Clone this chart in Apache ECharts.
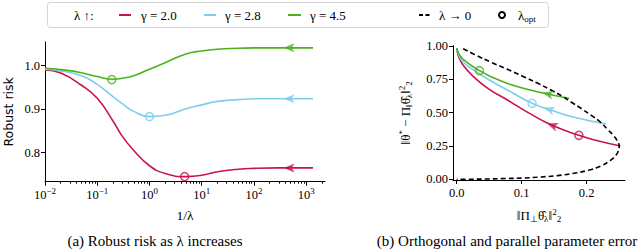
<!DOCTYPE html>
<html><head><meta charset="utf-8">
<script src="https://cdn.jsdelivr.net/npm/echarts@6/dist/echarts.min.js"></script>
<style>html,body{margin:0;padding:0;background:#fff}#c{width:640px;height:252px}</style>
</head><body><div id="c"></div>
<script>
// ---------- data: panel (a) robust risk vs 1/lambda ----------
const invLambda = [0.01, 0.02, 0.05, 0.1, 0.2, 0.3, 0.5, 1, 2, 5, 10, 20, 50, 100, 300, 1350];
const riskG20 = [0.990, 0.983, 0.955, 0.925, 0.873, 0.838, 0.805, 0.770, 0.752, 0.745, 0.748, 0.756, 0.762, 0.764, 0.765, 0.765];
const riskG28 = [0.992, 0.988, 0.977, 0.957, 0.929, 0.913, 0.895, 0.883, 0.886, 0.901, 0.910, 0.918, 0.922, 0.924, 0.924, 0.924];
const riskG45 = [0.994, 0.991, 0.984, 0.975, 0.969, 0.971, 0.977, 0.992, 1.007, 1.027, 1.034, 1.038, 1.040, 1.041, 1.041, 1.041];
const optInvLambda = [4.7, 1.0, 0.19];
const optRisk = [0.745, 0.883, 0.968];
const arrowInvLambda = [470, 470, 470];
const arrowRisk = [0.765, 0.924, 1.041];
const xTickExp = [-2, -1, 0, 1, 2, 3];
const yTicksLeft = [0.8, 0.9, 1.0];

// ---------- data: panel (b) orthogonal vs parallel error ----------
const perpG20 = [0, 0.003, 0.010, 0.026, 0.050, 0.078, 0.110, 0.147, 0.188, 0.220, 0.252];
const parG20  = [0.985, 0.920, 0.855, 0.770, 0.675, 0.595, 0.500, 0.405, 0.330, 0.285, 0.250];
const perpG28 = [0, 0.003, 0.010, 0.026, 0.050, 0.078, 0.116, 0.142, 0.181, 0.230];
const parG28  = [0.985, 0.935, 0.880, 0.820, 0.745, 0.670, 0.570, 0.525, 0.465, 0.415];
const perpG45 = [0, 0.003, 0.010, 0.035, 0.060, 0.090, 0.140, 0.173];
const parG45  = [0.985, 0.945, 0.900, 0.815, 0.755, 0.700, 0.640, 0.608];
const boundaryPerp = [0.010,0.030,0.052,0.078,0.103,0.125,0.145,0.162,0.176,0.192,0.207,0.221,0.233,0.241,0.247,0.250,0.249,0.245,0.236,0.222,0.204,0.180,0.155,0.128,0.103,0.075,0.050,0.025,0.0];
const boundaryPar  = [0.980,0.930,0.880,0.825,0.770,0.720,0.670,0.625,0.580,0.530,0.480,0.430,0.370,0.330,0.290,0.250,0.215,0.180,0.140,0.100,0.070,0.045,0.028,0.017,0.010,0.006,0.003,0.001,0.0];
const optPerp = [0.188, 0.116, 0.035];
const optPar  = [0.330, 0.570, 0.815];
const arrowPerp = [0.147, 0.142, 0.140];
const arrowPar  = [0.405, 0.525, 0.640];
const xTicksRight = [0, 0.1, 0.2];
const yTicksRight = [0, 0.25, 0.5, 0.75, 1.0];

const gammaNames = ['γ = 2.0', 'γ = 2.8', 'γ = 4.5'];

// ---------- styling ----------
const colors = ['#c8134f', '#7fcdee', '#4cb21c'];
const arrowRot = [-20, -18, -12];
const SERIF = 'Liberation Serif';
const SANS = 'DejaVu Sans';
const arrowPath = 'path://M0,5L12,0L9,5L12,10Z';

const minorExp = [];
for (let e = -2; e <= 3; e++) for (let k = 2; k <= 9; k++) {
  const v = Math.log10(k * Math.pow(10, e));
  if (v <= 3.36) minorExp.push(v);
}

const leftCurves = [riskG20, riskG28, riskG45];
const rightCurves = [[perpG20, parG20], [perpG28, parG28], [perpG45, parG45]];

const series = [];
leftCurves.forEach((ys, i) => {
  series.push({
    type: 'line', xAxisIndex: 0, yAxisIndex: 0, name: gammaNames[i],
    data: invLambda.map((x, j) => [Math.log10(x), ys[j]]),
    smooth: 0.5, showSymbol: false, silent: true,
    lineStyle: { color: colors[i], width: 1.6 }, z: 2
  });
});
rightCurves.forEach((c, i) => {
  series.push({
    type: 'line', xAxisIndex: 2, yAxisIndex: 1, name: gammaNames[i],
    data: c[0].map((x, j) => [x, c[1][j]]),
    smooth: 0.5, showSymbol: false, silent: true,
    lineStyle: { color: colors[i], width: 1.6 }, z: 2
  });
});
series.push({
  type: 'line', xAxisIndex: 2, yAxisIndex: 1, name: 'λ → 0',
  data: boundaryPerp.map((x, j) => [x, boundaryPar[j]]),
  smooth: 0.4, showSymbol: false, silent: true,
  lineStyle: { color: '#000', width: 1.6, type: [5, 3] }, z: 3
});
series.push({
  type: 'scatter', xAxisIndex: 0, yAxisIndex: 0, symbol: 'circle', symbolSize: 8, silent: true, z: 5,
  data: optInvLambda.map((x, i) => ({ value: [Math.log10(x), optRisk[i]], itemStyle: { color: 'rgba(255,255,255,0)', borderColor: colors[i], borderWidth: 1.5 } }))
});
series.push({
  type: 'scatter', xAxisIndex: 2, yAxisIndex: 1, symbol: 'circle', symbolSize: 8, silent: true, z: 5,
  data: optPerp.map((x, i) => ({ value: [x, optPar[i]], itemStyle: { color: 'rgba(255,255,255,0)', borderColor: colors[i], borderWidth: 1.5 } }))
});
series.push({
  type: 'scatter', xAxisIndex: 0, yAxisIndex: 0, symbol: arrowPath, symbolSize: [11, 9], silent: true, z: 5,
  data: arrowInvLambda.map((x, i) => ({ value: [Math.log10(x), arrowRisk[i]], itemStyle: { color: colors[i] } }))
});
series.push({
  type: 'scatter', xAxisIndex: 2, yAxisIndex: 1, symbol: arrowPath, symbolSize: [11, 9], silent: true, z: 5,
  data: arrowPerp.map((x, i) => ({ value: [x, arrowPar[i]], symbolRotate: arrowRot[i], itemStyle: { color: colors[i] } }))
});

const axisLine = { show: true, onZero: false, lineStyle: { color: '#000', width: 1 } };
const tickStyle = { color: '#000', width: 1 };
const labelBase = { color: '#000', fontFamily: SERIF, fontSize: 12.5 };
const richName = {
  t: { fontFamily: SERIF, fontSize: 13, color: '#000' },
  sb: { fontFamily: SERIF, fontSize: 9, color: '#000', padding: [7, 0, 0, 0] },
  sp: { fontFamily: SERIF, fontSize: 9, color: '#000', padding: [0, 0, 7, 0] }
};

const option = {
  animation: false,
  backgroundColor: '#fff',
  grid: [
    { left: 45, top: 42, width: 280, height: 139.7 },
    { left: 453, top: 45.6, width: 172, height: 134.4 }
  ],
  xAxis: [
    { gridIndex: 0, type: 'value', min: -2, max: 3.36, position: 'bottom',
      axisLine, splitLine: { show: false },
      axisTick: { show: true, customValues: xTickExp, length: 4, lineStyle: tickStyle },
      axisLabel: Object.assign({}, labelBase, { customValues: xTickExp, margin: 5,
        formatter: v => '{b|10}{s|' + (v < 0 ? '−' : '') + Math.abs(Math.round(v)) + '}',
        rich: { b: { fontFamily: SERIF, fontSize: 12.5, color: '#000' },
                s: { fontFamily: SERIF, fontSize: 9, color: '#000', padding: [0, 0, 7, 0] } } }),
      name: '1/λ', nameLocation: 'middle', nameGap: 27,
      nameTextStyle: { color: '#000', fontFamily: SERIF, fontSize: 13.5 } },
    { gridIndex: 0, type: 'value', min: -2, max: 3.36, position: 'bottom',
      axisLine: { show: false, onZero: false }, splitLine: { show: false }, axisLabel: { show: false },
      axisTick: { show: true, customValues: minorExp, length: 2, lineStyle: tickStyle } },
    { gridIndex: 1, type: 'value', min: -0.0057, max: 0.259, position: 'bottom',
      axisLine, splitLine: { show: false },
      axisTick: { show: true, customValues: xTicksRight, length: 4, lineStyle: tickStyle },
      axisLabel: Object.assign({}, labelBase, { customValues: xTicksRight, margin: 6, formatter: v => v.toFixed(1) }),
      name: '{t|‖Π}{sb|⊥}{t|θ̂}{sb|λ}{t|‖}{sp|2}{sb|2}', nameLocation: 'middle', nameGap: 27,
      nameTextStyle: { color: '#000', fontFamily: SERIF, fontSize: 13, rich: richName } }
  ],
  yAxis: [
    { gridIndex: 0, type: 'value', min: 0.7333, max: 1.0545,
      axisLine, splitLine: { show: false },
      axisTick: { show: true, customValues: yTicksLeft, length: 4, lineStyle: tickStyle },
      axisLabel: Object.assign({}, labelBase, { customValues: yTicksLeft, margin: 5, formatter: v => v.toFixed(1) }),
      name: 'Robust risk', nameLocation: 'middle', nameGap: 30,
      nameTextStyle: { color: '#000', fontFamily: SANS, fontSize: 12.5 } },
    { gridIndex: 1, type: 'value', min: -0.005, max: 1.003,
      axisLine, splitLine: { show: false },
      axisTick: { show: true, customValues: yTicksRight, length: 4, lineStyle: tickStyle },
      axisLabel: Object.assign({}, labelBase, { customValues: yTicksRight, margin: 5, formatter: v => v.toFixed(2) }),
      name: '{t|‖θ}{sp|*}{t| − Π}{sb|‖}{t|θ̂}{sb|λ}{t|‖}{sp|2}{sb|2}', nameLocation: 'middle', nameGap: 40,
      nameTextStyle: { color: '#000', fontFamily: SERIF, fontSize: 13, rich: richName } }
  ],
  series,
  graphic: [
    { type: 'rect', shape: { x: 47.5, y: 2.5, width: 501, height: 25, r: 3 }, style: { fill: '#fff', stroke: '#d4d4d4', lineWidth: 1 }, z: 10 },
    { type: 'text', x: 74, y: 15, z: 11, style: { text: 'λ ↑:', fill: '#000', font: '13px "Liberation Serif"', verticalAlign: 'middle' } },
    { type: 'line', z: 11, shape: { x1: 119, y1: 15, x2: 131, y2: 15 }, style: { stroke: colors[0], lineWidth: 2 } },
    { type: 'text', x: 141, y: 15, z: 11, style: { text: gammaNames[0], fill: '#000', font: '13px "Liberation Serif"', verticalAlign: 'middle' } },
    { type: 'line', z: 11, shape: { x1: 204, y1: 15, x2: 216, y2: 15 }, style: { stroke: colors[1], lineWidth: 2 } },
    { type: 'text', x: 225, y: 15, z: 11, style: { text: gammaNames[1], fill: '#000', font: '13px "Liberation Serif"', verticalAlign: 'middle' } },
    { type: 'line', z: 11, shape: { x1: 288, y1: 15, x2: 301, y2: 15 }, style: { stroke: colors[2], lineWidth: 2 } },
    { type: 'text', x: 310, y: 15, z: 11, style: { text: gammaNames[2], fill: '#000', font: '13px "Liberation Serif"', verticalAlign: 'middle' } },
    { type: 'line', z: 11, shape: { x1: 419, y1: 15, x2: 431, y2: 15 }, style: { stroke: '#000', lineWidth: 2, lineDash: [4, 2.5] } },
    { type: 'text', x: 439, y: 15, z: 11, style: { text: 'λ → 0', fill: '#000', font: '13px "Liberation Serif"', verticalAlign: 'middle' } },
    { type: 'circle', z: 11, shape: { cx: 502, cy: 15, r: 3 }, style: { fill: 'none', stroke: '#000', lineWidth: 2 } },
    { type: 'text', x: 518, y: 15, z: 11, style: { text: '{a|λ}{b|opt}', fill: '#000', verticalAlign: 'middle',
        rich: { a: { fontFamily: SERIF, fontSize: 13, fill: '#000' }, b: { fontFamily: SERIF, fontSize: 9, fill: '#000', padding: [7, 0, 0, 0] } } } },
    { type: 'text', x: 155, y: 241, z: 11, style: { text: '(a) Robust risk as λ increases', fill: '#000', font: '15px "Liberation Serif"', align: 'center', verticalAlign: 'middle' } },
    { type: 'text', x: 507, y: 241, z: 11, style: { text: '(b) Orthogonal and parallel parameter error', fill: '#000', font: '15px "Liberation Serif"', align: 'center', verticalAlign: 'middle' } }
  ]
};

const chart = echarts.init(document.getElementById('c'), null, { renderer: 'svg' });
chart.setOption(option);
</script>
</body></html>
